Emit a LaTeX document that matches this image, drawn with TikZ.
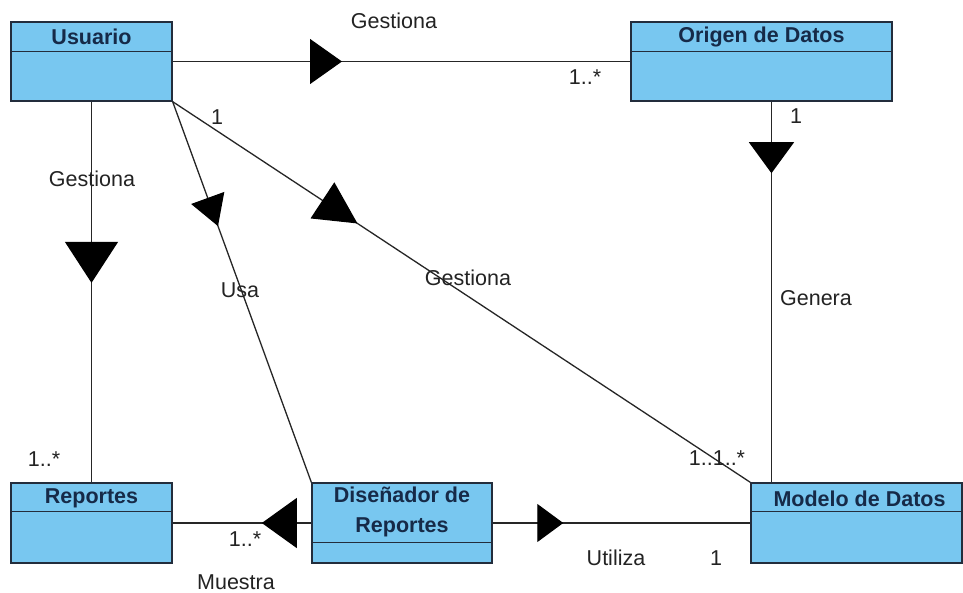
\documentclass[tikz,border=0pt]{standalone}
\usepackage{fontspec}
\setmainfont{Liberation Sans}
\usetikzlibrary{arrows.meta,decorations.markings,calc}
\definecolor{boxfill}{RGB}{120,199,240}
\definecolor{boxline}{RGB}{35,45,60}
\definecolor{titlecol}{RGB}{22,42,72}
\definecolor{labelcol}{RGB}{35,35,35}
\tikzset{
  cls/.style={draw=boxline, fill=boxfill, line width=1.3pt, rectangle, inner sep=0pt},
  sep/.style={draw=boxline, line width=1.3pt},
  ttl/.style={font=\fontsize{21.5}{30}\selectfont\bfseries, text=titlecol, align=center, inner sep=0pt},
  lbl/.style={font=\fontsize{21.5}{24}\selectfont, text=labelcol, inner sep=0pt},
  conn/.style={draw=black!85, line width=1.3pt},
  tri/.style n args={3}{postaction={decorate, decoration={markings,
      mark=at position #1 with {\arrow{Triangle[length=#2pt,width=#3pt,color=black,fill=black]}}}}},
}
\begin{document}
\begin{tikzpicture}[x=1pt,y=-1pt]
\useasboundingbox[fill=white] (0,0) rectangle (963,592);

% classes
\node[cls, minimum width=161pt, minimum height=79pt] (usuario) at (91.5,61.5) {};
\node[cls, minimum width=261pt, minimum height=79pt] (origen) at (761.5,61.5) {};
\node[cls, minimum width=161pt, minimum height=80pt] (reportes) at (91.5,523) {};
\node[cls, minimum width=180pt, minimum height=80pt] (disenador) at (402,523) {};
\node[cls, minimum width=211pt, minimum height=80pt] (modelo) at (856.5,523) {};

\draw[sep] ($(usuario.north west)+(0,30)$) -- ($(usuario.north east)+(0,30)$);
\draw[sep] ($(origen.north west)+(0,30)$) -- ($(origen.north east)+(0,30)$);
\draw[sep] ($(reportes.north west)+(0,29)$) -- ($(reportes.north east)+(0,29)$);
\draw[sep] ($(disenador.north west)+(0,60)$) -- ($(disenador.north east)+(0,60)$);
\draw[sep] ($(modelo.north west)+(0,29)$) -- ($(modelo.north east)+(0,29)$);

\node[ttl] (usuario-t) at ($(usuario.north)+(0,15.5)$) {Usuario};
\node[ttl] (origen-t) at ($(origen.north)+(0,15.5)$) {Origen de Datos};
\node[ttl] (reportes-t) at ($(reportes.north)+(0,15.5)$) {Reportes};
\node[ttl] (disenador-t) at ($(disenador.north)+(0,30)$) {Diseñador de\\Reportes};
\node[ttl] (modelo-t) at ($(modelo.north)+(3,16)$) {Modelo de Datos};

% connectors
\path[conn, tri={0.37}{32}{45}] (usuario.east) -- (origen.west);
\path[conn, tri={0.476}{41}{53}] (usuario.south) -- (reportes.north);
\path[conn, tri={0.327}{30}{35}] (usuario.south east) -- (disenador.north west);
\path[conn, tri={0.32}{42}{43}] (usuario.south east) -- (modelo.north west);
\coordinate (o1) at ($(origen.south west)!0.538!(origen.south east)$);
\path[conn, tri={0.188}{31}{45}] (o1) -- (o1 |- modelo.north);
\path[conn, tri={0.357}{35}{50}] (disenador.west) -- (reportes.east);
\path[conn, tri={0.274}{26}{38}] (disenador.east) -- (modelo.west);

% labels
\node[lbl] (l1) at (394,21) {Gestiona};
\node[lbl] (l2) at (585,77) {1..*};
\node[lbl] (l3) at (796,116) {1};
\node[lbl] (l4) at (92,179) {Gestiona};
\node[lbl] (l5) at (217,117) {1};
\node[lbl] (l6) at (240,290) {Usa};
\node[lbl] (l7) at (468,278) {Gestiona};
\node[lbl] (l8) at (816,298) {Genera};
\node[lbl] (l9) at (44,459) {1..*};
\node[lbl] (l10) at (717,458) {1..1..*};
\node[lbl] (l11) at (245,539) {1..*};
\node[lbl] (l12) at (236,582) {Muestra};
\node[lbl] (l13) at (616,558) {Utiliza};
\node[lbl] (l14) at (716,558) {1};
\end{tikzpicture}
\end{document}
